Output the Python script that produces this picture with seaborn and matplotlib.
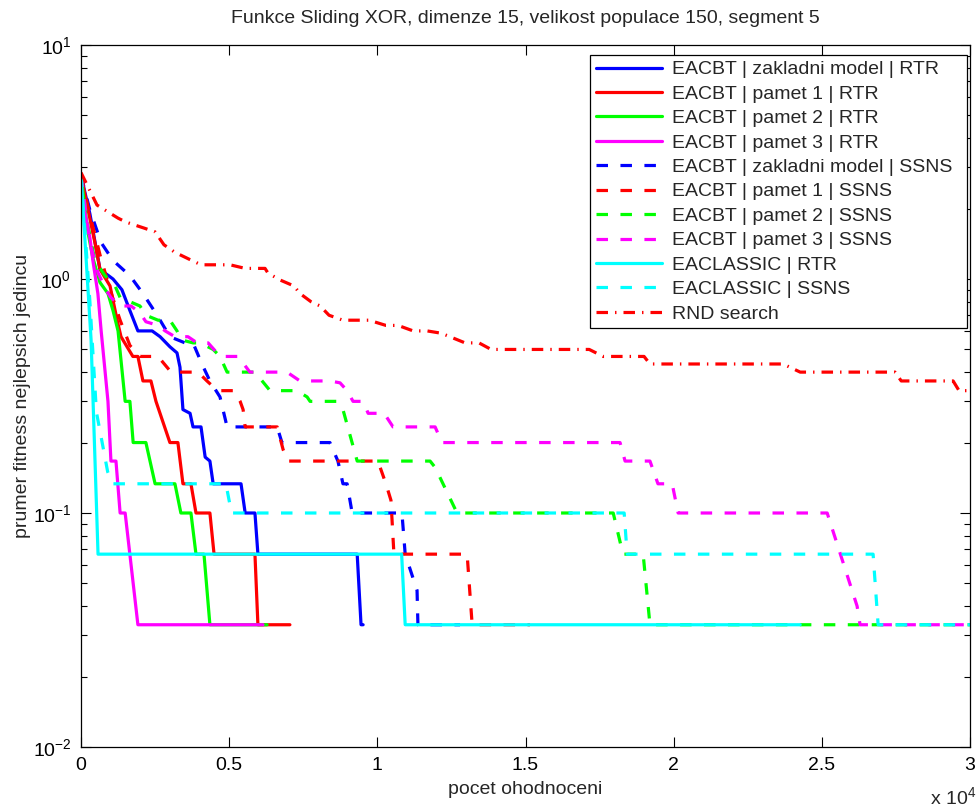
import matplotlib
matplotlib.use("Agg")
import matplotlib.pyplot as plt
import seaborn as sns
from matplotlib.ticker import FixedLocator, FixedFormatter, LogLocator, NullFormatter

sns.set_style("ticks")
plt.rcParams['font.family'] = ['Liberation Sans', 'DejaVu Sans']
plt.rcParams['mathtext.fontset'] = 'custom'
plt.rcParams['mathtext.rm'] = 'Liberation Sans'
plt.rcParams['mathtext.it'] = 'Liberation Sans'
plt.rcParams['mathtext.default'] = 'regular'

# ---------------- data ----------------
labels = ["EACBT | zakladni model | RTR", "EACBT | pamet 1 | RTR", "EACBT | pamet 2 | RTR",
          "EACBT | pamet 3 | RTR", "EACBT | zakladni model | SSNS", "EACBT | pamet 1 | SSNS",
          "EACBT | pamet 2 | SSNS", "EACBT | pamet 3 | SSNS", "EACLASSIC | RTR",
          "EACLASSIC | SSNS", "RND search"]

bs_x = [0, 300, 640, 1080, 1380, 1650, 1920, 2400, 2670, 3000, 3240, 3340, 3440, 3680, 3780,
        4050, 4190, 4350, 4460, 5400, 5540, 5870, 5970, 9320, 9450, 9520]
bs_y = [2.77, 1.9, 1.1, 1.0, 0.9, 0.7333, 0.6, 0.6, 0.5667, 0.5133, 0.4833, 0.42, 0.2767, 0.2667,
        0.2333, 0.2333, 0.1733, 0.1667, 0.1333, 0.1333, 0.1, 0.1, 0.0667, 0.0667, 0.0333, 0.0333]

rs_x = [0, 240, 470, 640, 980, 1220, 1350, 1750, 1920, 2090, 2360, 2530, 3000, 3270, 3440, 3710,
        3880, 4350, 4490, 5870, 5970, 7050]
rs_y = [2.77, 1.97, 1.43, 1.1, 0.9333, 0.6667, 0.5667, 0.4667, 0.4667, 0.3667, 0.3667, 0.3, 0.2,
        0.2, 0.1333, 0.1333, 0.1, 0.1, 0.0667, 0.0667, 0.0333, 0.0333]

gs_x = [0, 70, 240, 400, 640, 910, 1080, 1250, 1490, 1650, 1760, 2190, 2500, 3170, 3370, 3710,
        3880, 4150, 4350, 6280]
gs_y = [2.77, 2.33, 1.57, 1.23, 0.9667, 0.8667, 0.7333, 0.6, 0.3, 0.3, 0.2, 0.2, 0.1333, 0.1333,
        0.1, 0.1, 0.0667, 0.0667, 0.0333, 0.0333]

ms_x = [0, 30, 300, 400, 570, 680, 910, 1010, 1180, 1320, 1490, 1920, 6140]
ms_y = [2.77, 2.23, 1.5, 1.2, 0.8667, 0.6, 0.3, 0.1667, 0.1667, 0.1, 0.1, 0.0333, 0.0333]

bd_x = [0, 300, 680, 1080, 1650, 2090, 2570, 3000, 3510, 3780, 4080, 4350, 4690, 4930, 6620,
        6780, 8400, 8670, 8840, 8980, 9150, 10830, 10940, 11340, 11370, 12790]
bd_y = [2.77, 1.97, 1.43, 1.2, 1.0333, 0.8667, 0.7, 0.5667, 0.5333, 0.5333, 0.4333, 0.3667,
        0.3133, 0.2333, 0.2333, 0.2, 0.2, 0.1667, 0.1333, 0.1333, 0.1, 0.1, 0.0667, 0.0467,
        0.0333, 0.0333]

rd_x = [0, 300, 640, 980, 1320, 1650, 1990, 2600, 3040, 3950, 4250, 4460, 4730, 5130, 5370, 5470,
        5540, 6620, 6820, 6990, 10020, 10290, 10460, 10560, 13030, 13200, 15150]
rd_y = [2.77, 1.88, 1.27, 0.9, 0.6667, 0.52, 0.4667, 0.4667, 0.4, 0.4, 0.3667, 0.3467, 0.3333,
        0.3333, 0.3, 0.2767, 0.2333, 0.2333, 0.1867, 0.1667, 0.1667, 0.1333, 0.1133, 0.0667,
        0.0667, 0.0333, 0.0333]

gd_x = [0, 240, 470, 810, 1150, 1320, 1650, 1990, 2190, 2600, 3000, 3240, 3370, 3780, 4020, 4460,
        4690, 4930, 5870, 6380, 7290, 7630, 7730, 8640, 8840, 9320, 11780, 11950, 12690, 17960,
        18290, 18970, 19200, 30000]
gd_y = [2.77, 1.67, 1.2, 1.0333, 0.9333, 0.8333, 0.8, 0.7667, 0.7, 0.6667, 0.6667, 0.6, 0.55,
        0.5333, 0.5333, 0.5, 0.4667, 0.4, 0.4, 0.3333, 0.3333, 0.3133, 0.3, 0.3, 0.2767, 0.1667,
        0.1667, 0.1567, 0.1, 0.1, 0.0667, 0.0667, 0.0333, 0.0333]

md_x = [0, 300, 570, 840, 1010, 1320, 1690, 1990, 2190, 2600, 2840, 3170, 3610, 3920, 4290, 4590,
        4790, 5300, 5700, 6950, 7390, 8400, 8740, 8980, 9180, 9520, 9690, 10230, 10530, 11950,
        12180, 18190, 18360, 19200, 19470, 19950, 20150, 25180, 26190, 26290, 30000]
md_y = [2.77, 1.43, 1.0667, 0.9, 0.8333, 0.7667, 0.7667, 0.7167, 0.6567, 0.6333, 0.6, 0.5667,
        0.5667, 0.5333, 0.5333, 0.4833, 0.4667, 0.4667, 0.4, 0.4, 0.3667, 0.3667, 0.36, 0.3333,
        0.3, 0.3, 0.2667, 0.2667, 0.2333, 0.2333, 0.2, 0.2, 0.1667, 0.1667, 0.1333, 0.1333, 0.1,
        0.1, 0.04, 0.0333, 0.0333]

cs_x = [0, 340, 575, 10820, 10940, 24270]
cs_y = [2.77, 0.55, 0.0667, 0.0667, 0.0333, 0.0333]

cd_x = [0, 300, 520, 900, 1080, 4890, 5080, 18330, 18430, 26730, 26900, 30000]
cd_y = [2.77, 0.8, 0.27, 0.15, 0.1333, 0.1333, 0.1, 0.1, 0.0667, 0.0667, 0.0333, 0.0333]

rnd_x = [0, 540, 1250, 1520, 2130, 2500, 2800, 3170, 3680, 4050, 5030, 5540, 6210, 6310, 6720,
         7190, 7390, 7760, 8070, 8370, 8840, 9720, 10290, 10700, 11210, 11680, 12150, 12450,
         12960, 13430, 13840, 17150, 17620, 19000, 19200, 23690, 24270, 27470, 27680, 29430,
         29630, 30000]
rnd_y = [2.85, 2.07, 1.82, 1.75, 1.65, 1.59, 1.4, 1.3, 1.21, 1.15, 1.15, 1.11, 1.11, 1.06, 0.99,
         0.9333, 0.8667, 0.8, 0.7667, 0.7, 0.6667, 0.6667, 0.6333, 0.6333, 0.6, 0.6, 0.5867,
         0.5667, 0.5333, 0.5333, 0.5, 0.5, 0.4667, 0.4667, 0.4333, 0.4333, 0.4, 0.4, 0.3667,
         0.3667, 0.3333, 0.3333]

xtick_vals = [0, 5000, 10000, 15000, 20000, 25000, 30000]
xtick_labels = ["0", "0.5", "1", "1.5", "2", "2.5", "3"]
ytick_vals = [0.01, 0.1, 1, 10]
ytick_labels = [r"$10^{-2}$", r"$10^{-1}$", r"$10^{0}$", r"$10^{1}$"]

# ---------------- styling ----------------
LW = 2.3
SOLID = "-"
DASH = (0, (3.6, 3.9))
DASHDOT = (0, (3.6, 2.2, 0.45, 2.2))

series = [
    (bs_x, bs_y, "#0000ff", SOLID), (rs_x, rs_y, "#ff0000", SOLID),
    (gs_x, gs_y, "#00ff00", SOLID), (ms_x, ms_y, "#ff00ff", SOLID),
    (bd_x, bd_y, "#0000ff", DASH), (rd_x, rd_y, "#ff0000", DASH),
    (gd_x, gd_y, "#00ff00", DASH), (md_x, md_y, "#ff00ff", DASH),
    (cs_x, cs_y, "#00ffff", SOLID), (cd_x, cd_y, "#00ffff", DASH),
    (rnd_x, rnd_y, "#ff0000", DASHDOT),
]

fig = plt.figure(figsize=(9.79, 8.06), dpi=100)
ax = fig.add_axes([81 / 979, 1 - 747 / 806, 889 / 979, 702 / 806])

for lab, (xs, ys, col, ls) in zip(labels, series):
    sns.lineplot(x=xs, y=ys, ax=ax, color=col, linestyle=ls, linewidth=LW,
                 label=lab, estimator=None, sort=False)

ax.set_yscale("log")
ax.set_xlim(0, 30000)
ax.set_ylim(0.01, 10)

ax.xaxis.set_major_locator(FixedLocator(xtick_vals))
ax.xaxis.set_major_formatter(FixedFormatter(xtick_labels))
ax.yaxis.set_major_locator(FixedLocator(ytick_vals))
ax.yaxis.set_major_formatter(FixedFormatter(ytick_labels))
ax.yaxis.set_minor_locator(LogLocator(base=10, subs=range(2, 10), numticks=20))
ax.yaxis.set_minor_formatter(NullFormatter())

ax.tick_params(which="both", direction="in", top=True, right=True, colors="black",
               labelsize=14, width=0.8)
ax.tick_params(which="major", length=7, pad=7)
ax.tick_params(which="minor", length=4)
for sp in ax.spines.values():
    sp.set_visible(True)
    sp.set_color("black")
    sp.set_linewidth(0.9)

ax.set_title("Funkce Sliding XOR, dimenze 15, velikost populace 150, segment 5",
             fontsize=14, pad=16)
ax.set_xlabel("pocet ohodnoceni", fontsize=14, labelpad=5)
ax.set_ylabel("prumer fitness nejlepsich jedincu", fontsize=14)
ax.yaxis.set_label_coords(-0.056, 0.5)
fig.text(953 / 979, 1 - 797 / 806, r"x 10$^{4}$", fontsize=14, ha="center", va="center")

leg = ax.legend(loc="upper left", bbox_to_anchor=(0.5726, 0.5, 0.424, 0.4858),
                mode="expand", borderaxespad=0, fontsize=14, labelspacing=0.35,
                handlelength=3.4, handletextpad=0.5, borderpad=0.3,
                fancybox=False, framealpha=1, edgecolor="black")
leg.get_frame().set_linewidth(0.9)

fig.savefig("out.png", dpi=100, facecolor="white")
